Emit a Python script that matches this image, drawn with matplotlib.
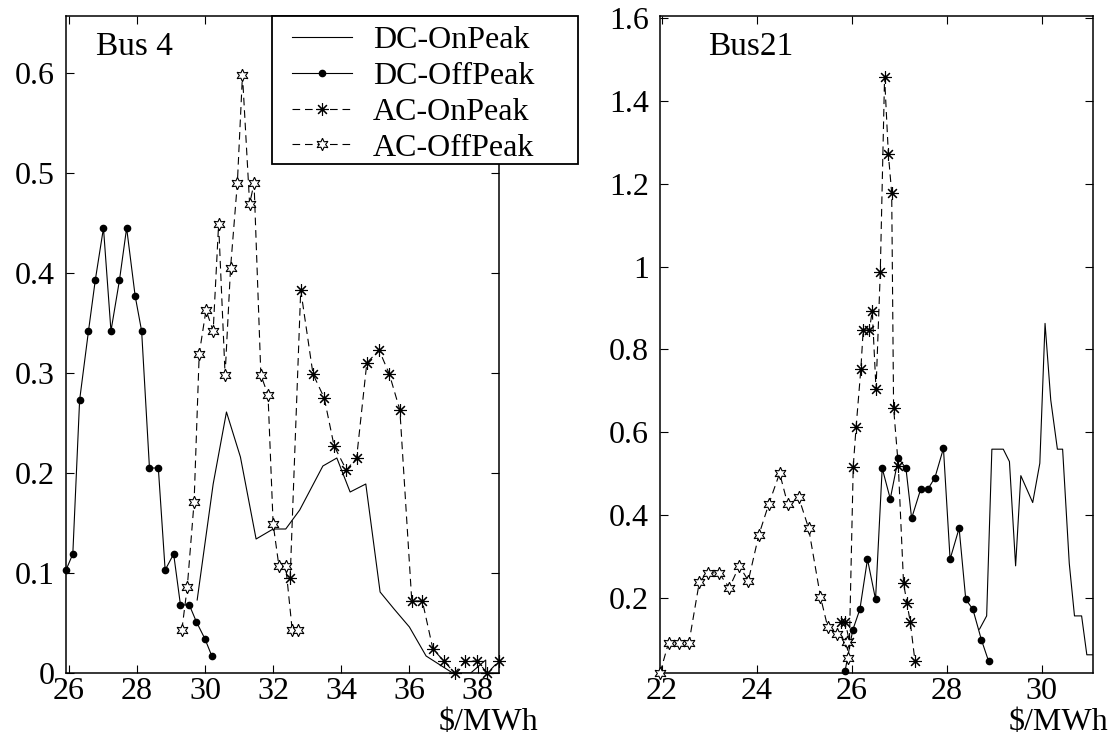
import matplotlib
matplotlib.use("Agg")
import matplotlib.pyplot as plt
from matplotlib.lines import Line2D
from matplotlib.patches import Rectangle
from matplotlib.ticker import FuncFormatter

# ---------------- data ----------------
# Bus 4
dc_on_x4 = [29.77, 30.24, 30.63, 31.04, 31.50, 32.00, 32.37, 32.78, 33.46, 33.87, 34.26, 34.72,
            35.14, 35.55, 36.00, 36.49, 37.27, 37.80, 38.24, 38.24]
dc_on_y4 = [0.073, 0.189, 0.261, 0.216, 0.134, 0.144, 0.144, 0.163, 0.207, 0.215, 0.181, 0.189,
            0.081, 0.064, 0.046, 0.017, 0.0, 0.0, 0.013, 0.0]

dc_off_x4 = [25.92, 26.12, 26.32, 26.58, 26.78, 27.02, 27.24, 27.49, 27.70, 27.95, 28.14, 28.37,
             28.63, 28.83, 29.08, 29.28, 29.54, 29.75, 30.00, 30.20]
dc_off_y4 = [0.103, 0.119, 0.273, 0.342, 0.393, 0.445, 0.342, 0.393, 0.445, 0.377, 0.342, 0.205,
             0.205, 0.103, 0.119, 0.068, 0.068, 0.051, 0.034, 0.017]

ac_on_x4 = [32.50, 32.81, 33.17, 33.50, 33.79, 34.15, 34.45, 34.75, 35.11, 35.41, 35.72, 36.07,
            36.38, 36.69, 37.01, 37.33, 37.64, 37.98, 38.29, 38.63]
ac_on_y4 = [0.095, 0.383, 0.299, 0.275, 0.227, 0.203, 0.215, 0.310, 0.323, 0.299, 0.263, 0.072,
            0.072, 0.024, 0.012, 0.0, 0.012, 0.012, 0.0, 0.012]

ac_off_x4 = [29.32, 29.48, 29.68, 29.83, 30.03, 30.24, 30.40, 30.59, 30.75, 30.95, 31.10, 31.31,
             31.44, 31.64, 31.85, 32.00, 32.17, 32.37, 32.56, 32.72]
ac_off_y4 = [0.043, 0.086, 0.171, 0.319, 0.363, 0.342, 0.449, 0.298, 0.405, 0.490, 0.598, 0.469,
             0.490, 0.298, 0.278, 0.149, 0.107, 0.107, 0.043, 0.043]

# Bus 21
dc_on_x21 = [28.69, 28.84, 28.95, 29.19, 29.32, 29.45, 29.56, 29.81, 29.96, 30.07, 30.19, 30.33,
             30.44, 30.58, 30.69, 30.84, 30.95, 31.08]
dc_on_y21 = [0.124, 0.156, 0.559, 0.559, 0.529, 0.277, 0.495, 0.430, 0.525, 0.863, 0.678, 0.559,
             0.559, 0.283, 0.156, 0.156, 0.062, 0.062]

dc_off_x21 = [25.86, 26.02, 26.17, 26.33, 26.50, 26.64, 26.81, 26.98, 27.14, 27.26, 27.45, 27.60,
              27.75, 27.93, 28.07, 28.26, 28.40, 28.55, 28.73, 28.88]
dc_off_y21 = [0.024, 0.122, 0.172, 0.293, 0.196, 0.513, 0.439, 0.537, 0.513, 0.392, 0.462, 0.462,
              0.490, 0.561, 0.293, 0.368, 0.196, 0.172, 0.098, 0.047]

ac_on_x21 = [25.78, 25.86, 25.95, 26.03, 26.09, 26.19, 26.24, 26.37, 26.43, 26.51, 26.60, 26.69,
             26.77, 26.84, 26.88, 26.98, 27.09, 27.16, 27.23, 27.33]
ac_on_y21 = [0.142, 0.142, 0.094, 0.517, 0.612, 0.752, 0.847, 0.847, 0.893, 0.704, 0.988, 1.459,
             1.272, 1.178, 0.659, 0.518, 0.235, 0.188, 0.142, 0.047]

ac_off_x21 = [21.96, 22.14, 22.35, 22.57, 22.79, 22.97, 23.20, 23.42, 23.63, 23.82, 24.04, 24.25,
              24.48, 24.65, 24.88, 25.09, 25.34, 25.49, 25.68, 25.89, 25.93]
ac_off_y21 = [0.018, 0.091, 0.091, 0.091, 0.239, 0.260, 0.260, 0.224, 0.277, 0.241, 0.351, 0.426,
              0.501, 0.426, 0.443, 0.368, 0.202, 0.130, 0.112, 0.094, 0.054]

series_labels = ["DC-OnPeak", "DC-OffPeak", "AC-OnPeak", "AC-OffPeak"]
xticks4 = [26, 28, 30, 32, 34, 36, 38]
yticks4 = [0, 0.1, 0.2, 0.3, 0.4, 0.5, 0.6]
xticks21 = [22, 24, 26, 28, 30]
yticks21 = [0.2, 0.4, 0.6, 0.8, 1.0, 1.2, 1.4, 1.6]
xlabel_text = r"\$/MWh"

# ---------------- style ----------------
plt.rcParams["font.family"] = ["Liberation Serif", "DejaVu Serif"]
plt.rcParams["lines.scale_dashes"] = False
FS = 23
LW = 0.8
DASH = (0, (5.5, 3.5))

W, H = 1116, 736
fig = plt.figure(figsize=(W / 100, H / 100), dpi=100)

def px_axes(x0, x1, y0, y1):
    return fig.add_axes([x0 / W, 1 - y1 / H, (x1 - x0) / W, (y1 - y0) / H])

ax1 = px_axes(66, 499, 16, 673)
ax2 = px_axes(660, 1093, 16, 673)

star8 = (8, 2, 0)
hexa = (6, 1, 0)

def draw(ax, dcx, dcy, dox, doy, aox, aoy, afx, afy):
    ax.plot(dcx, dcy, color="black", lw=LW, ls="-", zorder=3)
    ax.plot(dox, doy, color="black", lw=LW, ls="-", marker="o", ms=4.5,
            mfc="black", mec="black", zorder=4, clip_on=False)
    ax.plot(aox, aoy, color="black", lw=LW, ls=DASH, marker=star8, ms=9,
            mec="black", mew=0.8, zorder=5, clip_on=False)
    ax.plot(afx, afy, color="black", lw=LW, ls=DASH, marker=hexa, ms=9,
            mfc="white", mec="black", mew=0.8, zorder=6, clip_on=False)

draw(ax1, dc_on_x4, dc_on_y4, dc_off_x4, dc_off_y4, ac_on_x4, ac_on_y4, ac_off_x4, ac_off_y4)
draw(ax2, dc_on_x21, dc_on_y21, dc_off_x21, dc_off_y21, ac_on_x21, ac_on_y21, ac_off_x21, ac_off_y21)

def fmt(v, pos):
    return "%g" % round(v, 3)

for ax in (ax1, ax2):
    for s in ax.spines.values():
        s.set_linewidth(1.1)
    ax.tick_params(direction="in", length=6, width=0.8, top=True, right=True,
                   labelsize=FS)
    ax.tick_params(axis="y", pad=8)
    ax.tick_params(axis="x", pad=3)
    ax.yaxis.set_major_formatter(FuncFormatter(fmt))
    ax.xaxis.set_major_formatter(FuncFormatter(fmt))

ax1.set_xlim(25.92, 38.63)
ax1.set_ylim(0, 0.657)
ax1.set_xticks(xticks4)
ax1.set_yticks(yticks4)

ax2.set_xlim(21.96, 31.08)
ax2.set_ylim(0.018, 1.606)
ax2.set_xticks(xticks21)
ax2.set_yticks(yticks21)

ax1.text(0.069, 0.953, "Bus 4", transform=ax1.transAxes, fontsize=FS + 1, va="center", ha="left")
ax2.text(0.111, 0.953, "Bus21", transform=ax2.transAxes, fontsize=FS + 1, va="center", ha="left")

fig.text(488 / W, 1 - 723 / H, xlabel_text, fontsize=FS, ha="center", va="center")
fig.text(1058 / W, 1 - 723 / H, xlabel_text, fontsize=FS, ha="center", va="center")

# legend frame (drawn over the left axes' right spine, as in the reference)
x0, x1, y0, y1 = 272, 578, 16, 164
frame = Rectangle((x0 / W, 1 - y1 / H), (x1 - x0) / W, (y1 - y0) / H,
                  transform=fig.transFigure, facecolor="white", edgecolor="black",
                  linewidth=1.3, zorder=8)
fig.add_artist(frame)

handles = [
    Line2D([], [], color="black", lw=LW, ls="-"),
    Line2D([], [], color="black", lw=LW, ls="-", marker="o", ms=4.5, mfc="black"),
    Line2D([], [], color="black", lw=LW, ls=DASH, marker=star8, ms=9, mew=0.8),
    Line2D([], [], color="black", lw=LW, ls=DASH, marker=hexa, ms=9, mfc="white", mew=0.8),
]
leg = fig.legend(handles, series_labels, loc="upper left",
                 bbox_to_anchor=(292 / W, 1 - 26 / H),
                 borderaxespad=0, borderpad=0, fontsize=FS, frameon=False,
                 handlelength=1.88, handletextpad=0.65, labelspacing=0.2)
leg.set_zorder(10)

fig.savefig("out.png", dpi=100)
